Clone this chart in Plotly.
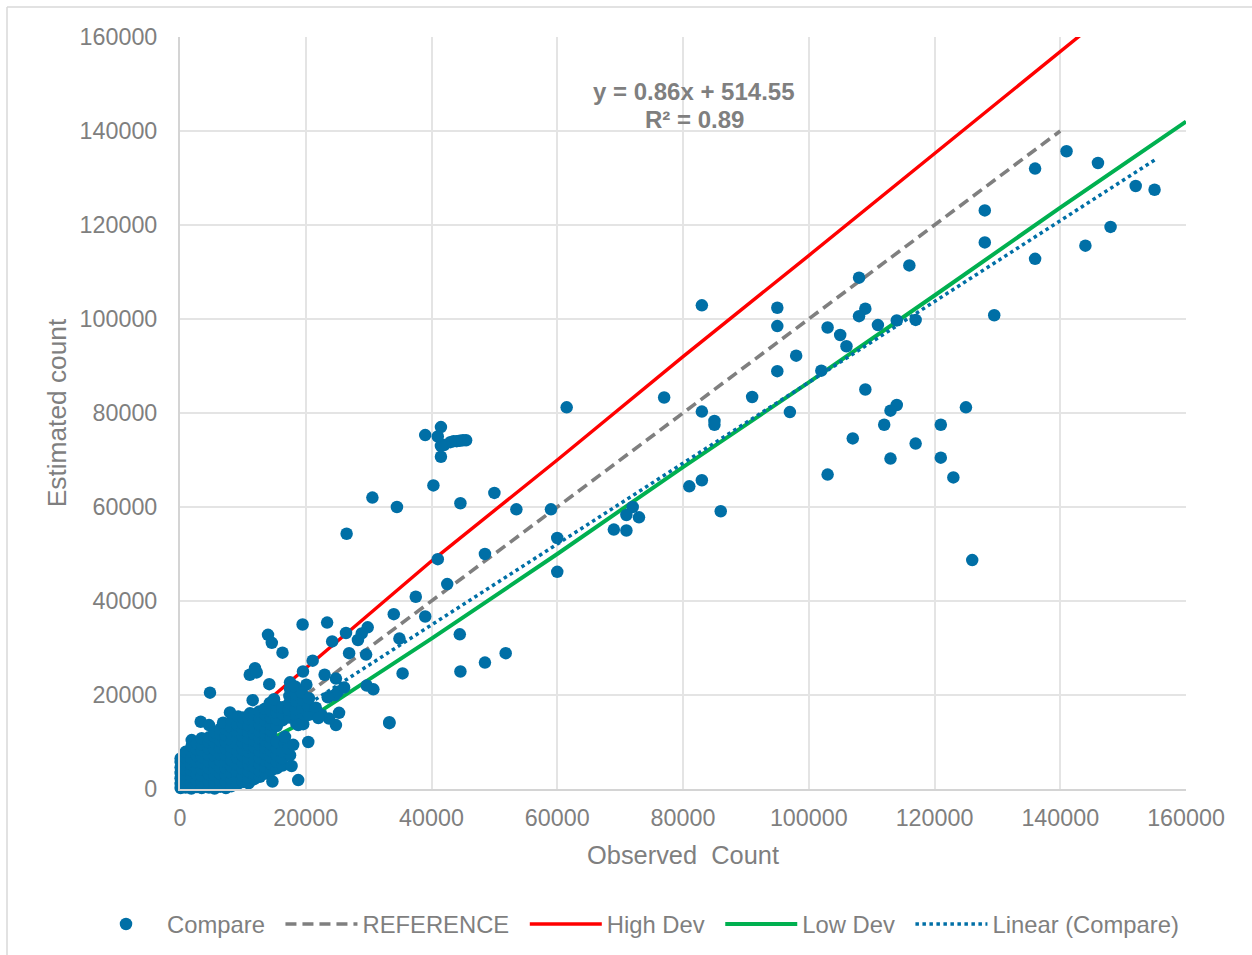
import plotly.graph_objects as go

sparse_points = [
 (155000,127500),(152000,128300),(148000,119600),(146000,133200),(144000,115600),(141000,135700),
 (136000,132000),(136000,112800),(129500,100800),(128000,123100),(128000,116300),(126000,48700),
 (125000,81200),(123000,66300),(121000,77500),(121000,70500),(117000,99800),(117000,73500),
 (116000,111400),(114000,99700),(114000,81700),(113000,80500),(113000,70300),(112000,77500),
 (111000,98700),(109000,102200),(109000,85000),(108000,108800),(108000,100600),(107000,74600),
 (106000,94200),(105000,96600),(103000,98200),(103000,66900),(102000,89000),(98000,92200),
 (97000,80200),(95000,102400),(95000,98500),(95000,88900),(91000,83400),(86000,59100),
 (85000,78300),(85000,77500),(83000,102900),(83000,80300),(83000,65700),(81000,64400),
 (77000,83300),(73000,57800),(72000,60000),(71000,58300),(71000,55000),(69000,55200),
 (61500,81200),(60000,53400),(60000,46200),(59000,59500),(53500,59500),(51800,28900),
 (50000,63000),(48500,50000),(48500,26900),(45500,74200),(45000,74200),(44500,74100),
 (44000,74000),(43500,74000),(43000,73800),(42000,73200),(41500,73000),(41500,70700),
 (41500,77000),(41000,75000),(39000,75300),(44600,60800),(44500,32900),(44600,25000),
 (42500,43600),(41000,48900),(40300,64600),(39000,36700),(37500,40900),(35400,24600),
 (34900,32000),(34500,60000),(34000,37200),(33300,14000),(30750,21200),(30600,62000),
 (29850,34400),(29600,28600),(29700,22000),(28900,33100),(28300,31700),(26900,28900),
 (26400,33200),(26500,54300),(26100,21600),(25300,16200),(24800,13600),(24800,23500),
 (25100,20700),(24650,20000),(24200,31400),(23500,19500),(23400,35400),(23700,15000),
 (23000,24300),(21100,27300),(19560,25000),(19500,35000),(20100,22200),(17500,22700),
 (14200,22300),(14000,32800),(14600,31100),(16300,29000),(11930,25700),(11100,24300),
 (12200,24800),(4770,20500),(33300,14200),(22500,15800),(21200,16400),
]

dense_points = [
 (100,200),(100,1100),(100,2300),(100,3400),(100,4600),(100,5800),(100,6500),
 (900,300),(900,1500),(900,2900),(900,4100),(900,5300),(900,6700),(900,7900),
 (1800,100),(1800,1300),(1800,2600),(1800,3900),(1800,5200),(1800,6500),(1800,7900),(1860,9200),(1860,10400),
 (2700,400),(2700,1700),(2700,3000),(2700,4300),(2700,5700),(2700,7000),(2700,8400),(2700,9600),
 (3450,200),(3500,1500),(3500,2800),(3500,4200),(3500,5500),(3500,6800),(3500,8200),(3500,9500),(3450,10800),(3290,14300),
 (4600,300),(4600,1600),(4600,3100),(4600,4400),(4600,5800),(4600,7200),(4600,8500),(4600,9900),(4610,11000),(4610,13600),
 (5500,100),(5500,1400),(5500,2900),(5500,4300),(5500,5600),(5500,7000),(5500,8400),(5500,9800),(5500,11200),(5500,12000),
 (6400,500),(6400,1800),(6400,3200),(6400,4600),(6400,6000),(6400,7400),(6400,8800),(6400,10200),(6400,11600),(6400,12800),
 (7300,200),(7300,1500),(7300,3000),(7300,4400),(7300,5800),(7300,7200),(7300,8600),(7300,10000),(7300,11400),(7300,12700),(6850,14100),
 (8200,600),(8200,1900),(8200,3300),(8200,4700),(8200,6100),(8200,7500),(8200,8900),(8200,10300),(8200,11700),(8200,13100),(8200,14500),(7950,16300),
 (9100,1000),(9100,2400),(9100,3800),(9100,5200),(9100,6600),(9100,8000),(9100,9400),(9100,10800),(9100,12200),(9100,13600),(9250,15400),
 (10000,1500),(10000,2800),(10000,4200),(10000,5600),(10000,7000),(10000,8400),(10000,9800),(10000,11200),(10000,12600),(10000,14000),(10000,15200),
 (10900,1200),(10900,2400),(10900,3700),(10900,5100),(10900,6500),(10900,7900),(10900,9300),(10900,10700),(10900,12100),(10900,13500),(10900,14900),(11130,16100),
 (11800,2100),(11800,3300),(11800,4700),(11800,6100),(11800,7500),(11800,8900),(11800,10300),(11800,11700),(11800,13100),(11800,14500),(11800,15900),(11560,18900),
 (12700,2600),(12700,3800),(12700,5200),(12700,6600),(12700,8000),(12700,9400),(12700,10800),(12700,12200),(12700,13600),(12700,15000),(12600,16500),
 (13600,3300),(13600,4600),(13600,6000),(13600,7400),(13600,8800),(13600,10200),(13600,11600),(13600,13000),(13600,14400),(13600,15800),(13500,17100),
 (14700,1600),(14500,3900),(14500,5300),(14500,6700),(14500,8100),(14500,9500),(14500,10900),(14500,12300),(14500,13700),(14500,15100),(14500,16500),(14300,18300),
 (15400,4400),(15400,5800),(15400,7200),(15400,8600),(15400,10000),(15400,13400),(15400,14800),(15400,16200),(15400,17600),(14950,19100),
 (16300,5000),(16300,6500),(16300,8000),(16700,9600),(16700,11100),(16300,14600),(16300,16000),(16300,17400),
 (17750,4900),(17500,7200),(17200,8600),(18000,9400),(17400,15200),(17300,16800),(17400,18300),(17400,19800),(17500,21300),
 (18800,1900),(18500,13900),(18500,15500),(18400,17000),(18500,18600),(18400,20200),(18300,21800),
 (19600,13800),(19600,15700),(19500,17300),(19600,18900),(19400,20500),
 (20400,10000),(20500,15800),(20400,17700),(20500,19300),(21600,17300),(18800,13600),(22000,15100),
]

reference_x = [20000, 140000]
reference_y = [20000, 140000]
high_x = [15000, 20000, 40000, 60000, 70000, 80000, 100000, 140000, 160000]
high_y = [20000, 25700, 48500, 70000, 81000, 92000, 113500, 157000, 178600]
low_x = [15000, 20000, 40000, 60000, 80000, 100000, 120000, 140000, 160000]
low_y = [11000, 14500, 32000, 50000, 68500, 86500, 105000, 123700, 142000]
linear_x = [0, 155000]
linear_y = [514.55, 133814.55]

equation_lines = ["y = 0.86x + 514.55", "R² = 0.89"]
ticks = [0, 20000, 40000, 60000, 80000, 100000, 120000, 140000, 160000]

FONT = "Liberation Sans"
GRAY = "#7f7f7f"
L, R, T, B = 180, 66, 37, 166
W, H = 1252, 955
PW, PH = W - L - R, H - T - B
px = lambda v: (v - L) / PW
py = lambda v: (H - B - v) / PH
PAD = "\u00a0\u2006"

points = sparse_points + dense_points
fig = go.Figure()
fig.add_trace(go.Scatter(x=reference_x, y=reference_y, mode="lines", name="REFERENCE" + PAD, legendrank=2,
                         line=dict(color="#7f7f7f", width=3.6, dash="11px,6px")))
fig.add_trace(go.Scatter(x=high_x, y=high_y, mode="lines", name="High Dev" + PAD, legendrank=3,
                         line=dict(color="#ff0000", width=3.4)))
fig.add_trace(go.Scatter(x=low_x, y=low_y, mode="lines", name="Low Dev" + PAD, legendrank=4,
                         line=dict(color="#00b050", width=4)))
fig.add_trace(go.Scatter(x=linear_x, y=linear_y, mode="lines", name="Linear (Compare)", legendrank=5,
                         line=dict(color="#006fa6", width=3.5, dash="3.5px,3.5px")))
fig.add_trace(go.Scatter(x=[p[0] for p in points], y=[p[1] for p in points], mode="markers", name="Compare" + PAD,
                         legendrank=1, cliponaxis=False,
                         marker=dict(color="#006fa6", size=12.5, line=dict(width=0))))

axis = dict(range=[0, 160000], tickvals=ticks, ticktext=[str(t) for t in ticks], showgrid=True,
            gridcolor="#e4e4e4", gridwidth=2, zeroline=False, showline=True, linecolor="#d4d4d4",
            linewidth=2, ticks="", tickfont=dict(family=FONT, size=23.3, color=GRAY))
fig.update_layout(
    width=W, height=H, margin=dict(l=L, r=R, t=T, b=B, autoexpand=False),
    paper_bgcolor="white", plot_bgcolor="white",
    xaxis=dict(axis, ticklabelstandoff=7, title=dict(text="Observed  Count", font=dict(family=FONT, size=25.4, color=GRAY), standoff=16)),
    yaxis=dict(axis, ticklabelstandoff=16, title=dict(text="Estimated count", font=dict(family=FONT, size=26.3, color=GRAY), standoff=5)),
    legend=dict(orientation="h", x=px(85), xanchor="left", y=py(924), yanchor="middle",
                itemwidth=72, font=dict(family=FONT, size=23.8, color=GRAY), bgcolor="rgba(0,0,0,0)",
                traceorder="normal"),
    annotations=[
        dict(text="<b>%s</b>" % equation_lines[0], x=px(694), y=py(92), xref="paper", yref="paper", showarrow=False,
             xanchor="center", yanchor="middle", font=dict(family=FONT, size=24, color=GRAY)),
        dict(text="<b>%s</b>" % equation_lines[1], x=px(694), y=py(120), xref="paper", yref="paper", showarrow=False,
             xanchor="center", yanchor="middle", font=dict(family=FONT, size=24, color=GRAY)),
    ],
    shapes=[
        dict(type="line", xref="paper", yref="paper", x0=px(7), x1=px(7), y0=py(7), y1=py(955), line=dict(color="#d9d9d9", width=1.5)),
        dict(type="line", xref="paper", yref="paper", x0=px(7), x1=px(1252), y0=py(7), y1=py(7), line=dict(color="#d9d9d9", width=1.5)),
    ],
)
fig.write_html("out.html", config=dict(displayModeBar=False),
               post_script="document.body.style.margin='0';document.documentElement.style.overflow='hidden';")
